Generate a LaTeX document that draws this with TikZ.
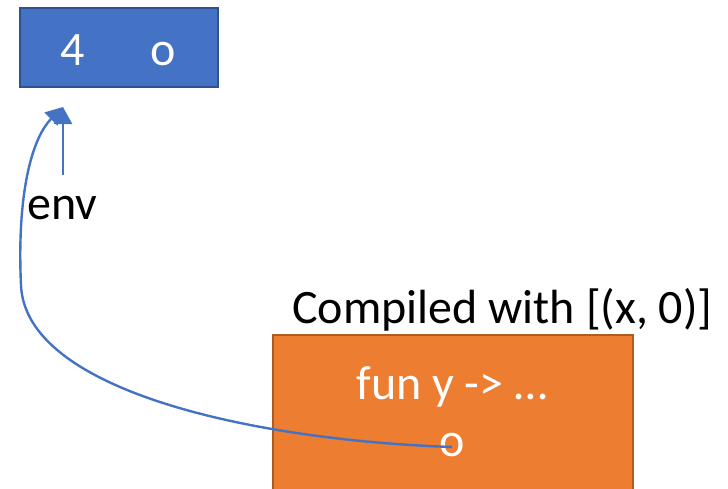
\documentclass[tikz,border=0pt]{standalone}
\usepackage{fontspec}
\setmainfont{Carlito}
\usetikzlibrary{arrows.meta}
\definecolor{boxblue}{HTML}{4472C4}
\definecolor{boxblueedge}{HTML}{2F528F}
\definecolor{boxorange}{HTML}{ED7D31}
\definecolor{boxorangeedge}{HTML}{AE5A21}
\definecolor{linkblue}{HTML}{4472C4}
\begin{document}
\begin{tikzpicture}[x=1pt,y=-1pt,
  bigtext/.style={font=\fontsize{48}{56}\selectfont, inner sep=0pt, anchor=base},
  whitetext/.style={bigtext, text=white},
  link/.style={draw=linkblue, line width=2.4pt, -{Triangle[length=17pt,width=18pt]}}]
  \useasboundingbox (0,0) rectangle (728,488);
  % environment record
  \draw[fill=boxblue, draw=boxblueedge, line width=2pt] (20,8) rectangle (218,87);
  \node[whitetext] (four) at (73,65) {4};
  \node[whitetext] (oval) at (163,65) {o};
  \coordinate (envtip) at (63,107);
  \coordinate (envtail) at (63,175);
  \node[bigtext, anchor=base west] (envlabel) at (27,219) {env};
  % compiled closure
  \draw[fill=boxorange, draw=boxorangeedge, line width=2pt] (273,335) rectangle (633,500);
  \node[bigtext, anchor=base west] (caption) at (292,323) {Compiled with [(x, 0)]};
  \node[whitetext] (funtext) at (452,399) {fun y -> …};
  \node[whitetext] (ocode) at (452,456) {o};
  \coordinate (ostart) at (452,447);
  % links
  \draw[link] (envtail) -- (envtip);
  \draw[link] (ostart) .. controls (250,440) and (25,390) .. (21,285)
     .. controls (17,200) and (30,140) .. (envtip);
\end{tikzpicture}
\end{document}
